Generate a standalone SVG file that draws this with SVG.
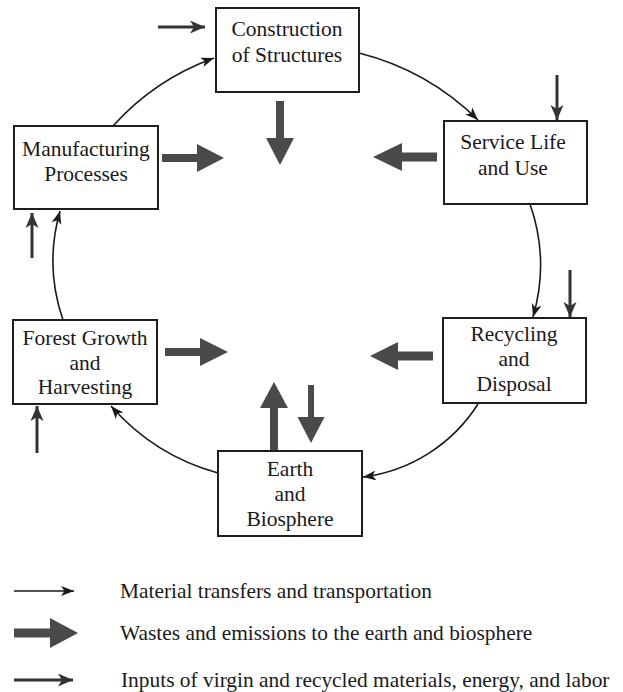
<svg xmlns="http://www.w3.org/2000/svg" width="623" height="692" viewBox="0 0 623 692">
<style>
.box{fill:#fff;stroke:#1e1e1e;stroke-width:2}
.lbl{font-family:"Liberation Serif","Times New Roman",serif;font-size:21.5px;fill:#1a1a1a;text-anchor:middle}
.leg{font-family:"Liberation Serif","Times New Roman",serif;font-size:21.4px;fill:#1a1a1a}
.mat{fill:none;stroke:#1a1a1a;stroke-width:1.6;marker-end:url(#mh)}
.inp{fill:none;stroke:#333;stroke-width:3;marker-end:url(#ih)}
.waste{fill:#4a4a4a}
</style>
<defs>
<marker id="mh" markerUnits="userSpaceOnUse" markerWidth="16" markerHeight="12" refX="13" refY="5" orient="auto">
<path d="M0,0 L13,5 L0,10 L3.5,5 z" fill="#1a1a1a"/>
</marker>
<marker id="ih" markerUnits="userSpaceOnUse" markerWidth="18" markerHeight="16" refX="15" refY="6.5" orient="auto">
<path d="M0,0 L15,6.5 L0,13 L4,6.5 z" fill="#333"/>
</marker>
</defs>
<rect width="623" height="692" fill="#fff"/>

<g id="connectors">
<path class="mat" d="M113,126 A250,250 0 0 1 214,58"/>
<path class="mat" d="M359,53 A260,260 0 0 1 478,120"/>
<path class="mat" d="M530,204 A185,185 0 0 1 533,317"/>
<path class="mat" d="M478,404 A160,160 0 0 1 363,477"/>
<path class="mat" d="M218,473 A220,220 0 0 1 111,406"/>
<path class="mat" d="M63,320 A182,182 0 0 1 60,211"/>
<path class="inp" d="M158,27 L205,27"/>
<path class="inp" d="M557,75 L557,120"/>
<path class="inp" d="M570,270 L570,317"/>
<path class="inp" d="M32,258 L32,213"/>
<path class="inp" d="M37,453 L37,406"/>
<polygon class="waste" points="162,154 197,154 197,144 224,158 197,172 197,162 162,162"/>
<polygon class="waste" points="276,101 284,101 284,138 294,138 280,165 266,138 276,138"/>
<polygon class="waste" points="437,152.5 402,152.5 402,143 373,157 402,171 402,161.5 437,161.5"/>
<polygon class="waste" points="433,351.5 398,351.5 398,342 370,356 398,370 398,360.5 433,360.5"/>
<polygon class="waste" points="165,348 200,348 200,338 228,352 200,366 200,356 165,356"/>
<polygon class="waste" points="270,451 270,408 260,408 274,382 288,408 278,408 278,451"/>
<polygon class="waste" points="308,385 314,385 314,417 324.5,417 311,443 297.5,417 308,417"/>
</g>

<g id="construction">
<rect class="box" x="216" y="8" width="143" height="84"/>
<text class="lbl" x="287" y="36">Construction</text>
<text class="lbl" x="287" y="62">of Structures</text>
</g>
<g id="service">
<rect class="box" x="444" y="121" width="143" height="83"/>
<text class="lbl" x="513" y="149">Service Life</text>
<text class="lbl" x="513" y="175">and Use</text>
</g>
<g id="recycling">
<rect class="box" x="443" y="318" width="143" height="85"/>
<text class="lbl" x="514" y="341">Recycling</text>
<text class="lbl" x="514" y="366">and</text>
<text class="lbl" x="514" y="391">Disposal</text>
</g>
<g id="earth">
<rect class="box" x="218" y="451" width="144" height="85"/>
<text class="lbl" x="290" y="476">Earth</text>
<text class="lbl" x="290" y="501">and</text>
<text class="lbl" x="290" y="526">Biosphere</text>
</g>
<g id="forest">
<rect class="box" x="13" y="320" width="144" height="84"/>
<text class="lbl" x="85" y="345">Forest Growth</text>
<text class="lbl" x="85" y="370">and</text>
<text class="lbl" x="85" y="394">Harvesting</text>
</g>
<g id="manufacturing">
<rect class="box" x="14" y="126" width="144" height="83"/>
<text class="lbl" x="86" y="156">Manufacturing</text>
<text class="lbl" x="86" y="181">Processes</text>
</g>

<g id="legend">
<path class="mat" d="M14,591 L74,591"/>
<polygon class="waste" points="14,628.5 50,628.5 50,618 78,633 50,648 50,637.5 14,637.5"/>
<path class="inp" d="M14,680 L73,680"/>
<text class="leg" x="120" y="598">Material transfers and transportation</text>
<text class="leg" x="120" y="640">Wastes and emissions to the earth and biosphere</text>
<text class="leg" x="121" y="687">Inputs of virgin and recycled materials, energy, and labor</text>
</g>
</svg>
